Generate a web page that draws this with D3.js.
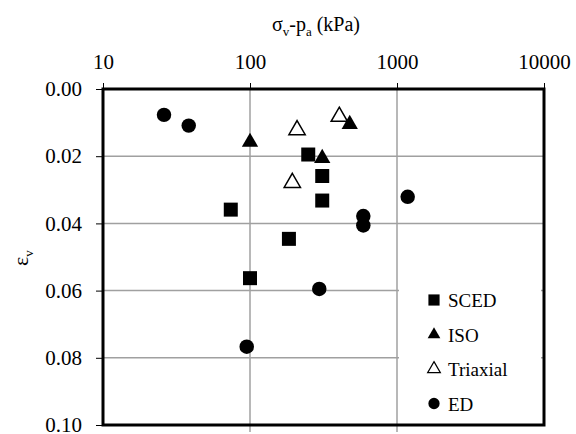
<!DOCTYPE html>
<html>
<head>
<meta charset="utf-8">
<script src="https://cdn.jsdelivr.net/npm/d3@7"></script>
<style>
  body { margin: 0; background: #fff; }
  text { font-family: "Liberation Serif", "Times New Roman", serif; fill: #000; }
</style>
</head>
<body>
<div id="chart"></div>
<script>
// valeurs
const xTicks = [10, 100, 1000, 10000];
const yTicks = [0, 0.02, 0.04, 0.06, 0.08, 0.10];

const sced = [[74, 0.0359], [184, 0.0446], [100, 0.0563], [249, 0.0195], [310, 0.0259], [310, 0.0332]];
const iso = [[100, 0.0158], [477, 0.0105], [310, 0.0206]];
const triax = [[209, 0.0122], [405, 0.0082], [194, 0.0279]];
const ed = [[26, 0.0077], [38.3, 0.0109], [95, 0.0767], [1182, 0.0321], [590, 0.0378], [590, 0.0406], [296, 0.0595]];

const series = [
    { name: "SCED", data: sced, type: d3.symbolSquare, size: 196, fill: "#000", leg: 125 },
    { name: "ISO", data: iso, type: d3.symbolTriangle, size: 115, fill: "#000", leg: 70 },
    { name: "Triaxial", data: triax, type: d3.symbolTriangle, size: 115, fill: "#fff", leg: 70 },
    { name: "ED", data: ed, type: d3.symbolCircle, size: 165, fill: "#000", leg: 100 }
];

const width = 576, height = 434;
const box = { left: 103, right: 544, top: 89, bottom: 425 };

const svg = d3.select("#chart").append("svg")
    .attr("width", width)
    .attr("height", height);

const x = d3.scaleLog().domain([10, 10000]).range([box.left, box.right]);
const y = d3.scaleLinear().domain([0, 0.1]).range([box.top, box.bottom]);

// grille
svg.append("g").selectAll("line")
    .data(xTicks.slice(1, -1))
    .join("line")
    .attr("x1", d => x(d)).attr("x2", d => x(d))
    .attr("y1", box.top).attr("y2", box.bottom + 7)
    .attr("stroke", "#a0a0a0").attr("stroke-width", 1.5);

svg.append("g").selectAll("line")
    .data(yTicks.slice(1, -1))
    .join("line")
    .attr("y1", d => y(d)).attr("y2", d => y(d))
    .attr("x1", box.left).attr("x2", box.right)
    .attr("stroke", "#a0a0a0").attr("stroke-width", 1.5);

// axes
const xAxis = svg.append("g")
    .attr("transform", `translate(0,${box.top})`)
    .call(d3.axisTop(x).tickValues(xTicks).tickFormat(d3.format("d")).tickSize(6).tickPadding(14));
xAxis.select(".domain").remove();
xAxis.selectAll("text").style("font-size", "21px");

const yAxis = svg.append("g")
    .attr("transform", `translate(${box.left},0)`)
    .call(d3.axisLeft(y).tickValues(yTicks).tickFormat(d3.format(".2f")).tickSize(7).tickPadding(14));
yAxis.select(".domain").remove();
yAxis.selectAll("text").style("font-size", "21px");

svg.append("rect")
    .attr("x", box.left).attr("y", box.top)
    .attr("width", box.right - box.left).attr("height", box.bottom - box.top)
    .attr("fill", "none").attr("stroke", "#000").attr("stroke-width", 3);

// titres
const title = svg.append("text")
    .attr("x", 316).attr("y", 31)
    .attr("text-anchor", "middle")
    .style("font-size", "20px");
title.append("tspan").text("σ");
title.append("tspan").attr("dy", 5).style("font-size", "13px").text("v");
title.append("tspan").attr("dy", -5).text("-p");
title.append("tspan").attr("dy", 5).style("font-size", "13px").text("a");
title.append("tspan").attr("dy", -5).text(" (kPa)");

const ylab = svg.append("text")
    .attr("transform", "translate(28,258) rotate(-90)")
    .attr("text-anchor", "middle")
    .style("font-size", "22px");
ylab.append("tspan").text("ε");
ylab.append("tspan").attr("dy", 5).style("font-size", "13px").text("v");

// points
const sym = d3.symbol();
series.forEach(s => {
    svg.append("g").selectAll("path")
        .data(s.data)
        .join("path")
        .attr("transform", d => `translate(${x(d[0])},${y(d[1])})`)
        .attr("d", sym.type(s.type).size(s.size)())
        .attr("fill", s.fill)
        .attr("stroke", "#000")
        .attr("stroke-width", s.fill === "#fff" ? 1.5 : 0);
});

// legende
const legend = svg.append("g");
legend.append("rect")
    .attr("x", 399).attr("y", 282).attr("width", 142).attr("height", 140)
    .attr("fill", "#fff");
series.forEach((s, i) => {
    const ly = 300 + i * 34.5;
    legend.append("path")
        .attr("transform", `translate(434,${ly})`)
        .attr("d", d3.symbol().type(s.type).size(s.leg)())
        .attr("fill", s.fill)
        .attr("stroke", "#000")
        .attr("stroke-width", s.fill === "#fff" ? 1.2 : 0);
    legend.append("text")
        .attr("x", 448).attr("y", ly + 7)
        .style("font-size", "19px")
        .text(s.name);
});
</script>
</body>
</html>
